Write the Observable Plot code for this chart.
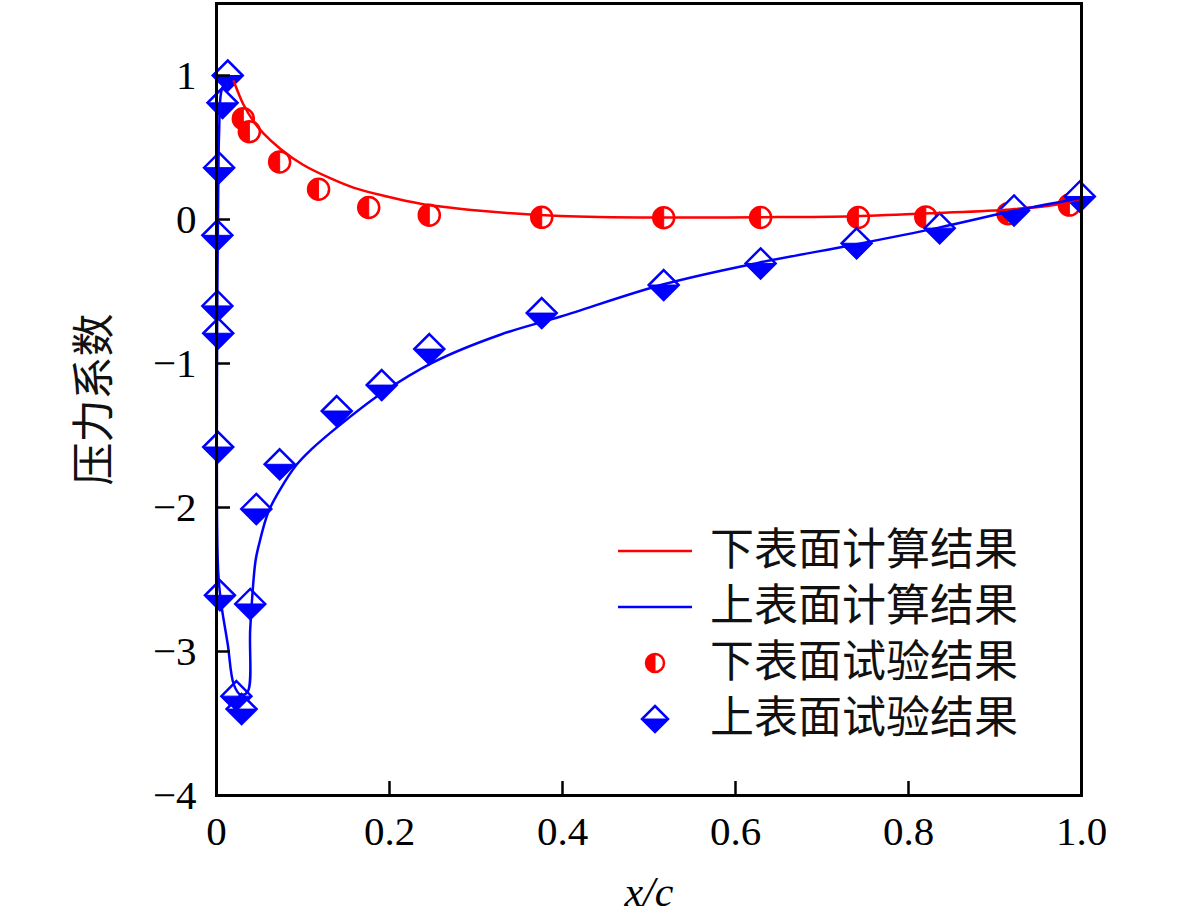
<!DOCTYPE html>
<html>
<head>
<meta charset="utf-8">
<script src="https://cdn.jsdelivr.net/npm/d3@7"></script>
<script src="https://cdn.jsdelivr.net/npm/@observablehq/plot@0.6"></script>
<style>
  body { margin: 0; background: #fff; }
  #wrap { position: relative; width: 1181px; height: 922px; }
  .leg { position: absolute; left: 0; top: 0; width: 1181px; height: 922px; pointer-events: none; }
  .row { position: absolute; left: 612px; height: 56px; display: flex; align-items: center; }
  .row svg { width: 86px; height: 56px; }
  .row span { margin-left: 12px; font-family: "Liberation Serif", "Noto Sans CJK SC", sans-serif; font-size: 44px; color: #111; line-height: 50px; }
</style>
</head>
<body>
<div id="wrap"></div>
<script>
// ---- data ----
const xTicks = [0, 0.2, 0.4, 0.6, 0.8, 1.0];
const yTicks = [-4, -3, -2, -1, 0, 1];

// lower surface computed (red line)
const lowerCalcX = [0.020, 0.031, 0.043, 0.054, 0.074, 0.100, 0.132, 0.159, 0.197, 0.236, 0.259, 0.305, 0.398, 0.517, 0.627, 0.737, 0.834, 0.918, 0.968, 0.993, 1.0];
const lowerCalcY = [0.96, 0.80, 0.68, 0.60, 0.49, 0.38, 0.285, 0.22, 0.16, 0.11, 0.09, 0.06, 0.025, 0.014, 0.016, 0.023, 0.045, 0.07, 0.10, 0.135, 0.145];

// upper surface computed (blue line)
const upperCalcX = [0.013, 0.006, 0.003, 0.002, 0.001, 0.0005, 0.0005, 0.002, 0.005, 0.013, 0.020, 0.028, 0.036, 0.039, 0.045, 0.049, 0.060, 0.074, 0.093, 0.109, 0.14, 0.19, 0.251, 0.328, 0.398, 0.517, 0.627, 0.737, 0.834, 0.918, 0.993, 1.0];
const upperCalcY = [0.98, 0.90, 0.60, 0.20, -0.50, -1.20, -2.00, -2.45, -2.65, -2.95, -3.23, -3.30, -3.28, -2.84, -2.375, -2.26, -2.03, -1.87, -1.70, -1.60, -1.44, -1.21, -0.99, -0.80, -0.674, -0.45, -0.30, -0.175, -0.058, 0.055, 0.142, 0.15];

// lower surface experiment (red half circles)
const lowerExpX = [0.031, 0.038, 0.073, 0.118, 0.176, 0.246, 0.376, 0.517, 0.629, 0.742, 0.820, 0.915, 0.986];
const lowerExpY = [0.70, 0.61, 0.40, 0.21, 0.083, 0.03, 0.015, 0.012, 0.014, 0.014, 0.018, 0.04, 0.10];

// upper surface experiment (blue half diamonds)
const upperExpX = [0.013, 0.007, 0.003, 0.001, 0.001, 0.002, 0.002, 0.004, 0.023, 0.029, 0.039, 0.046, 0.073, 0.139, 0.191, 0.246, 0.376, 0.517, 0.629, 0.740, 0.836, 0.922, 0.998];
const upperExpY = [1.0, 0.81, 0.36, -0.11, -0.60, -0.79, -1.58, -2.61, -3.31, -3.40, -2.67, -2.01, -1.70, -1.33, -1.15, -0.90, -0.65, -0.455, -0.305, -0.165, -0.06, 0.063, 0.16];

const seriesNames = ["下表面计算结果", "上表面计算结果", "下表面试验结果", "上表面试验结果"];
const RED = "#ff0000", BLUE = "#0000ff";

const zip = (xs, ys) => xs.map((x, i) => ({x, y: ys[i]}));
const lowerCalc = zip(lowerCalcX, lowerCalcY);
const upperCalc = zip(upperCalcX, upperCalcY);
const lowerExp = zip(lowerExpX, lowerExpY);
const upperExp = zip(upperExpX, upperExpY);

// custom symbols
const rOf = (size) => Math.sqrt(size / Math.PI);
const halfCircleLeft = { draw(c, size) { const r = rOf(size); c.moveTo(0, -r); c.arc(0, 0, r, -Math.PI / 2, Math.PI / 2, true); c.closePath(); } };
const diamondFull = { draw(c, size) { const r = rOf(size); c.moveTo(0, -r); c.lineTo(r, 0); c.lineTo(0, r); c.lineTo(-r, 0); c.closePath(); } };
const diamondBottom = { draw(c, size) { const r = rOf(size); c.moveTo(-r, 0); c.lineTo(r, 0); c.lineTo(0, r); c.closePath(); } };

const serif = "Liberation Serif, Times New Roman, serif";

const chart = Plot.plot({
  width: 1181,
  height: 922,
  marginLeft: 216,
  marginRight: 100,
  marginTop: 3,
  marginBottom: 127,
  style: { fontFamily: serif, background: "#fff" },
  x: { domain: [0, 1] },
  y: { domain: [-4, 1.5] },
  marks: [
    Plot.dot(lowerExp, {x: "x", y: "y", symbol: "circle", r: 10.5, fill: "#fff", stroke: RED, strokeWidth: 2.5}),
    Plot.dot(lowerExp, {x: "x", y: "y", symbol: halfCircleLeft, r: 10.5, fill: RED, stroke: RED, strokeWidth: 1}),
    Plot.dot(upperExp, {x: "x", y: "y", symbol: diamondFull, r: 15, fill: "#fff", stroke: BLUE, strokeWidth: 2.5}),
    Plot.dot(upperExp, {x: "x", y: "y", symbol: diamondBottom, r: 15, fill: BLUE, stroke: BLUE, strokeWidth: 1}),
    Plot.line(lowerCalc, {x: "x", y: "y", stroke: RED, strokeWidth: 2.5, curve: "catmull-rom"}),
    Plot.line(upperCalc, {x: "x", y: "y", stroke: BLUE, strokeWidth: 2.5, curve: "catmull-rom"}),
    Plot.axisX({ticks: xTicks, tickFormat: d => d === 0 ? "0" : d.toFixed(1), tickSize: -14, tickPadding: 34, fontSize: 41, fontFamily: serif, strokeWidth: 2.5, label: null, color: "#000"}),
    Plot.axisY({ticks: yTicks, tickFormat: d => d < 0 ? "\u2212" + Math.abs(d) : String(d), tickSize: -14, tickPadding: 34, fontSize: 41, fontFamily: serif, strokeWidth: 2.5, label: null, color: "#000"}),
    Plot.frame({stroke: "#000", strokeWidth: 3}),
    Plot.text(["x/c"], {frameAnchor: "bottom", dy: 97, text: d => d, fontSize: 42, fontStyle: "italic", fontFamily: serif, fill: "#000", lineAnchor: "middle", textAnchor: "middle"}),
    Plot.text(["压力系数"], {frameAnchor: "left", dx: -121, rotate: -90, text: d => d, fontSize: 43, fontFamily: "Noto Sans CJK SC, sans-serif", fill: "#111", lineAnchor: "middle", textAnchor: "middle"})
  ]
});

const wrap = document.getElementById("wrap");
wrap.appendChild(chart);

// legend (HTML overlay)
const leg = document.createElement("div");
leg.className = "leg";
const rowTops = [523, 579, 635, 691];
const swatches = [
  `<svg viewBox="0 0 86 56"><line x1="6" x2="80" y1="28" y2="28" stroke="${RED}" stroke-width="2.5"/></svg>`,
  `<svg viewBox="0 0 86 56"><line x1="6" x2="80" y1="28" y2="28" stroke="${BLUE}" stroke-width="2.5"/></svg>`,
  `<svg viewBox="0 0 86 56"><circle cx="43" cy="28" r="9" fill="#fff" stroke="${RED}" stroke-width="2.5"/><path d="M43,19 A9,9 0 0,0 43,37 Z" fill="${RED}" stroke="${RED}" stroke-width="1"/></svg>`,
  `<svg viewBox="0 0 86 56"><path d="M43,15 L56,28 L43,41 L30,28 Z" fill="#fff" stroke="${BLUE}" stroke-width="2.5"/><path d="M30,28 L56,28 L43,41 Z" fill="${BLUE}" stroke="${BLUE}" stroke-width="1"/></svg>`
];
seriesNames.forEach((name, i) => {
  const row = document.createElement("div");
  row.className = "row";
  row.style.top = rowTops[i] + "px";
  row.innerHTML = swatches[i] + `<span>${name}</span>`;
  leg.appendChild(row);
});
wrap.appendChild(leg);
</script>
</body>
</html>
